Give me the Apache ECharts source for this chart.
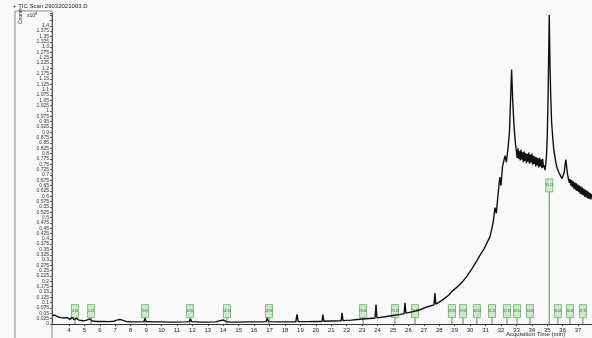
<!DOCTYPE html>
<html>
<head>
<meta charset="utf-8">
<script src="https://cdn.jsdelivr.net/npm/echarts@6/dist/echarts.min.js"></script>
<style>
  html, body { margin: 0; padding: 0; background: #fafafa; }
  #chart { width: 592px; height: 338px; }
</style>
</head>
<body>
<div id="chart"></div>
<script>
// TIC trace: acquisition time (min) and abundance (x10^8 counts)
const traceTimes = [
  2.95, 3.1, 3.3, 3.5, 3.7, 3.9, 4.05, 4.2, 4.35, 4.5, 4.65, 4.9, 5.1, 5.36, 5.5, 5.8,
  6.2, 6.6, 6.9, 7.1, 7.3, 7.5, 7.7, 8.0, 8.5, 8.85, 8.93, 9.0, 9.5, 10.0, 10.5, 11.0,
  11.5, 11.8, 11.88, 11.95, 12.5, 13.0, 13.5, 13.8, 14.0, 14.2, 14.5, 15.0, 15.5, 16.0,
  16.5, 16.78, 16.85, 16.92, 17.5, 18.0, 18.7, 18.78, 18.86, 19.5, 20.0, 20.4, 20.46,
  20.52, 21.0, 21.64, 21.7, 21.76, 22.3, 22.86, 23.84, 23.9, 23.96, 24.5, 25.0, 25.45,
  25.72, 25.78, 25.84, 26.3, 26.8, 27.2, 27.66, 27.72, 27.78, 28.2, 28.6, 28.9, 29.15,
  29.5, 29.8, 30.1, 30.45, 30.7, 30.9, 31.1, 31.29, 31.4, 31.5, 31.61, 31.7, 31.8, 31.93,
  32.0, 32.1, 32.26, 32.35, 32.45, 32.55, 32.62, 32.69, 32.76, 32.84, 32.92,
  33.0, 33.05, 33.1, 33.15, 33.2, 33.25, 33.3, 33.35, 33.4, 33.45, 33.5, 33.55, 33.6,
  33.65, 33.7, 33.75, 33.8, 33.85, 33.9, 33.95, 34.0, 34.05, 34.1, 34.15, 34.2, 34.25,
  34.3, 34.35, 34.4, 34.45, 34.5, 34.55, 34.6, 34.65, 34.7, 34.75, 34.8, 34.85, 34.9,
  34.95, 35.0, 35.05, 35.1, 35.13, 35.17, 35.22, 35.28, 35.35, 35.42, 35.5, 35.55, 35.6,
  35.65, 35.7, 35.75, 35.8, 35.85, 35.9, 35.95, 36.0, 36.05, 36.1, 36.15, 36.21, 36.26,
  36.32, 36.38, 36.43, 36.48, 36.53, 36.58, 36.63, 36.68, 36.73, 36.78, 36.83, 36.88,
  36.93, 36.98, 37.03, 37.08, 37.13, 37.18, 37.23, 37.28, 37.33, 37.38, 37.43, 37.48,
  37.53, 37.58, 37.63, 37.68, 37.73, 37.78, 37.83, 37.88, 37.92
];
const traceCounts = [
  0.042, 0.040, 0.033, 0.030, 0.028, 0.030, 0.022, 0.030, 0.020, 0.027, 0.018, 0.015, 0.017, 0.024, 0.014, 0.012,
  0.012, 0.011, 0.013, 0.018, 0.022, 0.017, 0.012, 0.010, 0.010, 0.011, 0.026, 0.012, 0.010, 0.010, 0.009, 0.009,
  0.010, 0.011, 0.024, 0.011, 0.009, 0.009, 0.010, 0.016, 0.019, 0.011, 0.009, 0.009, 0.010, 0.010,
  0.010, 0.011, 0.029, 0.011, 0.010, 0.010, 0.010, 0.045, 0.011, 0.011, 0.012, 0.012, 0.044,
  0.013, 0.014, 0.015, 0.052, 0.016, 0.018, 0.022, 0.028, 0.090, 0.029, 0.034, 0.040, 0.045,
  0.049, 0.100, 0.051, 0.058, 0.068, 0.080, 0.090, 0.145, 0.093, 0.112, 0.135, 0.158, 0.173,
  0.198, 0.225, 0.258, 0.299, 0.330, 0.352, 0.382, 0.410, 0.445, 0.480, 0.546, 0.520, 0.600, 0.690,
  0.650, 0.740, 0.790, 0.760, 0.820, 0.900, 1.050, 1.195, 1.050, 0.937, 0.860,
  0.810, 0.780, 0.825, 0.775, 0.812, 0.768, 0.818, 0.772, 0.806, 0.760, 0.810, 0.766, 0.802,
  0.755, 0.798, 0.762, 0.805, 0.752, 0.795, 0.758, 0.800, 0.748, 0.790, 0.752, 0.786, 0.740,
  0.782, 0.745, 0.778, 0.735, 0.780, 0.740, 0.772, 0.732, 0.775, 0.735, 0.745, 0.722, 0.748,
  0.790, 0.880, 1.050, 1.300, 1.450, 1.250, 1.080, 0.950, 0.880, 0.820, 0.785, 0.760, 0.745,
  0.730, 0.722, 0.712, 0.705, 0.698, 0.690, 0.682, 0.678, 0.690, 0.712, 0.745, 0.772, 0.735,
  0.700, 0.680, 0.662, 0.680, 0.650, 0.676, 0.642, 0.670, 0.635, 0.665, 0.630, 0.660,
  0.625, 0.655, 0.620, 0.650, 0.612, 0.645, 0.608, 0.640, 0.604, 0.635, 0.598, 0.630,
  0.594, 0.625, 0.590, 0.620, 0.588, 0.615, 0.585, 0.610, 0.598
];

// Identified peaks: retention time and the level where the label box sits
const peakTimes = [4.39, 5.43, 8.93, 11.84, 14.24, 16.96, 23.06, 25.13, 26.43, 28.82,
  29.54, 30.44, 31.42, 32.39, 33.04, 33.88, 35.13, 35.69, 36.47, 37.31];
const peakLevels = [0.03, 0.03, 0.03, 0.03, 0.03, 0.03, 0.03, 0.03, 0.03, 0.03,
  0.03, 0.03, 0.03, 0.03, 0.03, 0.03, 0.62, 0.03, 0.03, 0.03];

// Axis tick labels
const timeTicks = [4, 5, 6, 7, 8, 9, 10, 11, 12, 13, 14, 15, 16, 17, 18, 19, 20, 21, 22,
  23, 24, 25, 26, 27, 28, 29, 30, 31, 32, 33, 34, 35, 36, 37];
const countTickStep = 0.025;
const countTickMax = 1.4;

const chart = echarts.init(document.getElementById('chart'), null, { renderer: 'canvas' });

const tracePoints = traceTimes.map((t, i) => [t, traceCounts[i]]);
const peakPoints = peakTimes.map((t, i) => [t, peakLevels[i]]);

const font = 'Liberation Sans, Arial, sans-serif';

chart.setOption({
  backgroundColor: '#fafafa',
  animation: false,
  grid: { left: 52, right: 0, top: 13, bottom: 14, containLabel: false },
  xAxis: {
    type: 'value',
    min: 2.9,
    max: 37.9,
    axisLine: { show: true, lineStyle: { color: '#333', width: 1 } },
    axisTick: { show: true, customValues: timeTicks, length: 2, lineStyle: { color: '#333' } },
    axisLabel: {
      customValues: timeTicks,
      fontSize: 6, color: '#222', margin: 3, fontFamily: font,
      formatter: v => String(v)
    },
    splitLine: { show: false }
  },
  yAxis: {
    type: 'value',
    min: 0,
    max: 1.46,
    interval: countTickStep,
    axisLine: { show: true, lineStyle: { color: '#555', width: 1 } },
    axisTick: { show: true, length: 2, lineStyle: { color: '#555' } },
    axisLabel: {
      fontSize: 5, color: '#333', margin: 3, fontFamily: font,
      formatter: v => (v > countTickMax + 1e-6 ? '' : String(Math.round(v * 1000) / 1000))
    },
    splitLine: { show: false }
  },
  series: [
    {
      type: 'line',
      data: tracePoints,
      showSymbol: false,
      symbol: 'none',
      lineStyle: { color: '#111', width: 1.4 },
      z: 3
    },
    {
      type: 'custom',
      data: peakPoints,
      z: 2,
      renderItem: function (params, api) {
        const t = api.value(0);
        const lvl = api.value(1);
        const base = api.coord([t, 0]);
        const top = api.coord([t, lvl]);
        const w = 7, h = 13;
        return {
          type: 'group',
          children: [
            {
              type: 'line',
              shape: { x1: base[0], y1: base[1], x2: top[0], y2: top[1] },
              style: { stroke: '#3c9a3c', lineWidth: 1 }
            },
            {
              type: 'rect',
              shape: { x: top[0] - w / 2, y: top[1] - h, width: w, height: h },
              style: { fill: 'rgba(190,225,190,0.75)', stroke: '#6aae6a', lineWidth: 0.8 }
            },
            {
              type: 'text',
              style: {
                x: top[0], y: top[1] - h / 2,
                text: t.toFixed(2),
                fontSize: 3, fontFamily: font,
                fill: '#2f6f2f', align: 'center', verticalAlign: 'middle'
              }
            }
          ]
        };
      }
    }
  ],
  graphic: [
    {
      type: 'rect',
      shape: { x: 15, y: 11, width: 37, height: 330 },
      style: { fill: 'none', stroke: '#888', lineWidth: 1 },
      silent: true
    },
    {
      type: 'text',
      x: 13, y: 3,
      style: { text: '+ TIC Scan 29032021003.D', fontSize: 6, fill: '#222', fontFamily: font }
    },
    {
      type: 'text',
      x: 18, y: 24,
      rotation: Math.PI / 2,
      style: { text: 'Counts', fontSize: 5, fill: '#222', fontFamily: font, verticalAlign: 'top' }
    },
    {
      type: 'text',
      x: 27, y: 12,
      style: {
        text: 'x10{s|8}',
        fontSize: 5, fill: '#222', fontFamily: font,
        rich: { s: { fontSize: 4, verticalAlign: 'top', padding: [0, 0, 3, 0] } }
      }
    },
    {
      type: 'text',
      x: 506, y: 331,
      style: { text: 'Acquisition Time (min)', fontSize: 6, fill: '#222', fontFamily: font }
    }
  ]
});
</script>
</body>
</html>
